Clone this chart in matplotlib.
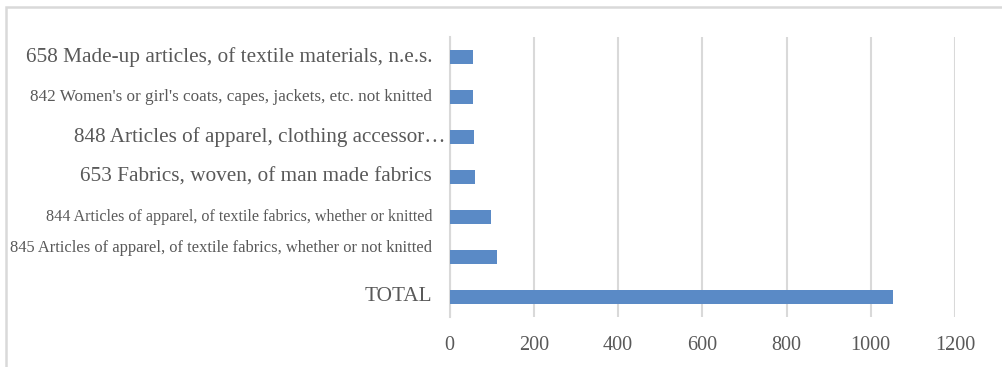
import matplotlib.pyplot as plt
from matplotlib.patches import Rectangle

# categories from bottom to top
categories = [
    "TOTAL",
    "845 Articles of apparel, of textile fabrics, whether or not knitted",
    "844 Articles of apparel, of textile fabrics, whether or knitted",
    "653 Fabrics, woven, of man made fabrics",
    "848 Articles of apparel, clothing accessor\u2026",
    "842 Women's or girl's coats, capes, jackets, etc. not knitted",
    "658 Made-up articles, of textile materials, n.e.s.",
]
values = [1052, 113, 98, 61, 58, 55, 55]
xticks = [0, 200, 400, 600, 800, 1000, 1200]

# label look, as in the source (mixed font sizes)
label_sizes = [15.3, 11.9, 11.6, 15.3, 15.2, 12.3, 15.3]
label_shift = [0, 9, 0, 0, 0, 0, 0]   # pixels up
label_xoff = [0, 0, 0, 0, 13, 0, 0]   # pixels right

W, H = 1002, 367
fig = plt.figure(figsize=(W / 100, H / 100), dpi=100)
plt.rcParams['font.family'] = ['Liberation Serif', 'DejaVu Serif']

# chart border (only top/left visible in the crop)
fig.patches.append(Rectangle((6 / W, -0.1), 1.2, (H - 7) / H + 0.1,
                             transform=fig.transFigure, fill=False,
                             edgecolor='#d9d9d9', linewidth=1.8))

left, right = 449.5, 955
top, bottom = 36.7, 316.7
ax = fig.add_axes([left / W, 1 - bottom / H, (right - left) / W, (bottom - top) / H])

y = list(range(len(categories)))
ax.barh(y, values, height=0.35, color='#5a8ac6', zorder=3)

ax.set_xlim(0, 1200)
ax.set_ylim(-0.5, len(categories) - 0.5)
ax.set_xticks(xticks)
ax.set_xticklabels([str(t) for t in xticks], fontsize=14.5, color='#595959')
ax.tick_params(axis='x', length=0, pad=14)
ax.set_yticks([])
ax.grid(axis='x', color='#d9d9d9', linewidth=1.5, zorder=0)
for s in ['top', 'right', 'bottom']:
    ax.spines[s].set_visible(False)
ax.spines['left'].set_color('#d9d9d9')
ax.spines['left'].set_linewidth(1.5)

for i, lab in enumerate(categories):
    ax.annotate(lab, xy=(0, i), xycoords=('axes fraction', 'data'),
                xytext=((label_xoff[i] - 17.5) * 0.72, label_shift[i] * 0.72),
                textcoords='offset points',
                ha='right', va='center', fontsize=label_sizes[i], color='#595959',
                zorder=4)

fig.savefig('out.png', dpi=100)
